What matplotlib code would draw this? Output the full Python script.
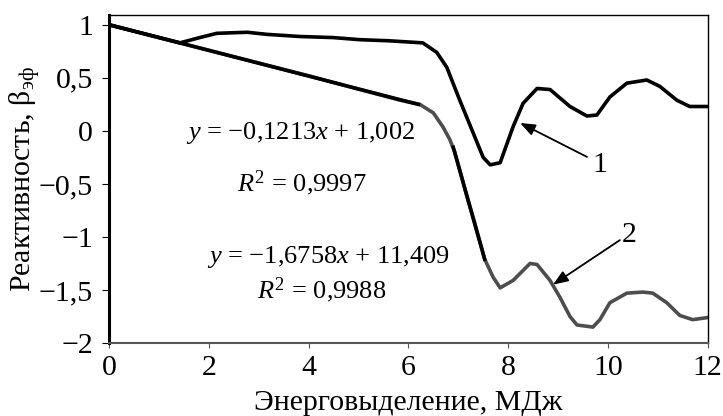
import matplotlib
matplotlib.use("Agg")
import matplotlib.pyplot as plt
import numpy as np

plt.rcParams['font.family'] = ['Liberation Serif', 'DejaVu Serif']
plt.rcParams['mathtext.fontset'] = 'custom'
plt.rcParams['mathtext.rm'] = 'Liberation Serif'
plt.rcParams['mathtext.it'] = 'Liberation Serif:italic'

# curve 1 (upper, black)
x1 = [0, 0.5, 1.0, 1.42, 1.82, 2.16, 2.77, 3.17, 3.83, 4.49, 5.03, 5.6, 6.29, 6.57,
      6.77, 7.03, 7.3, 7.5, 7.64, 7.84, 8.1, 8.3, 8.58, 8.84, 9.24, 9.58, 9.78,
      10.04, 10.38, 10.78, 11.04, 11.38, 11.64, 12.0]
y1 = [1.0, 0.94, 0.88, 0.83, 0.88, 0.92, 0.93, 0.91, 0.89, 0.88, 0.86, 0.85, 0.83, 0.74,
      0.6, 0.29, -0.02, -0.25, -0.32, -0.30, 0.04, 0.26, 0.40, 0.39, 0.23, 0.14, 0.15,
      0.32, 0.45, 0.48, 0.42, 0.29, 0.23, 0.23]

# curve 2 (lower, gray)
x2 = [0, 1, 2, 3, 4, 5.03, 5.83, 6.23, 6.5, 6.69, 6.83, 6.93, 7.17, 7.3, 7.53, 7.7,
      7.84, 8.1, 8.44, 8.58, 8.84, 9.04, 9.24, 9.38, 9.7, 9.84, 10.04, 10.38, 10.7,
      10.9, 11.18, 11.44, 11.7, 12.0]
y2 = [1.0, 0.88, 0.76, 0.64, 0.52, 0.39, 0.29, 0.25, 0.17, 0.04, -0.08, -0.2, -0.61,
      -0.82, -1.21, -1.38, -1.48, -1.41, -1.25, -1.26, -1.41, -1.57, -1.75, -1.83,
      -1.85, -1.78, -1.62, -1.53, -1.52, -1.53, -1.62, -1.74, -1.78, -1.76]

# trend lines
fit1_k, fit1_b, fit1_x = -0.1213, 1.002, [0, 6.2]
fit2_k, fit2_b, fit2_x = -1.6758, 11.409, [6.9, 7.53]

xticks = [0, 2, 4, 6, 8, 10, 12]
yticks = [1, 0.5, 0, -0.5, -1, -1.5, -2]
ytick_labels = ['1', '0,5', '0', '\u22120,5', '\u22121', '\u22121,5', '\u22122']

fig = plt.figure(figsize=(7.23, 4.16), dpi=100)
ax = fig.add_axes([0.1508, 0.1755, 0.828, 0.789])

ax.plot(x2, y2, color='#4d4d4d', lw=2.6, solid_joinstyle='round')
ax.plot(x1, y1, color='black', lw=2.6, solid_joinstyle='round')
fx = np.array(fit1_x)
ax.plot(fx, fit1_k * fx + fit1_b, color='black', lw=2.6)
fx = np.array(fit2_x)
ax.plot(fx, fit2_k * fx + fit2_b, color='black', lw=2.6)

ax.set_xlim(0, 12)
ax.set_ylim(-2, 1.095)
ax.set_xticks(xticks)
ax.set_xticklabels([str(v) for v in xticks])
ax.set_yticks(yticks)
ax.set_yticklabels(ytick_labels)
ax.tick_params(labelsize=21.5, direction='out')
ax.tick_params(axis='x', length=3.5, pad=5, color='#555555')
ax.tick_params(axis='y', length=5, pad=6.5)

ax.spines['left'].set_linewidth(2.2)
ax.spines['bottom'].set_color('#555555')
ax.spines['bottom'].set_linewidth(1.5)
ax.spines['top'].set_linewidth(1.0)
ax.spines['right'].set_linewidth(1.0)

ax.set_xlabel('Энерговыделение, МДж', fontsize=21.5, labelpad=6.5)
ax.set_ylabel(r'Реактивность, β$_{\mathrm{эф}}$', fontsize=21.5, labelpad=-3)

minus = '\u2212'
ax.text(3.83, -0.02, '$y$ = ' + minus + '0,1213$x$ + 1,002',
        fontsize=19, ha='center', va='center')
ax.text(3.87, -0.49, r'$R^{\mathrm{2}}$ = 0,9997', fontsize=19, ha='center', va='center')
ax.text(4.39, -1.19, '$y$ = ' + minus + '1,6758$x$ + 11,409',
        fontsize=19, ha='center', va='center')
ax.text(4.27, -1.5, r'$R^{\mathrm{2}}$ = 0,9988', fontsize=19, ha='center', va='center')

arrow = dict(arrowstyle='-|>,head_length=0.9,head_width=0.35', color='black', lw=1.3,
             shrinkA=0, shrinkB=0)
ax.annotate('', xy=(8.24, 0.075), xytext=(9.58, -0.245), arrowprops=arrow)
ax.text(9.84, -0.32, '1', fontsize=21.5, ha='center', va='center')
ax.annotate('', xy=(8.9, -1.45), xytext=(10.24, -1.03), arrowprops=arrow)
ax.text(10.42, -0.98, '2', fontsize=21.5, ha='center', va='center')

fig.savefig('out.png', dpi=100)
